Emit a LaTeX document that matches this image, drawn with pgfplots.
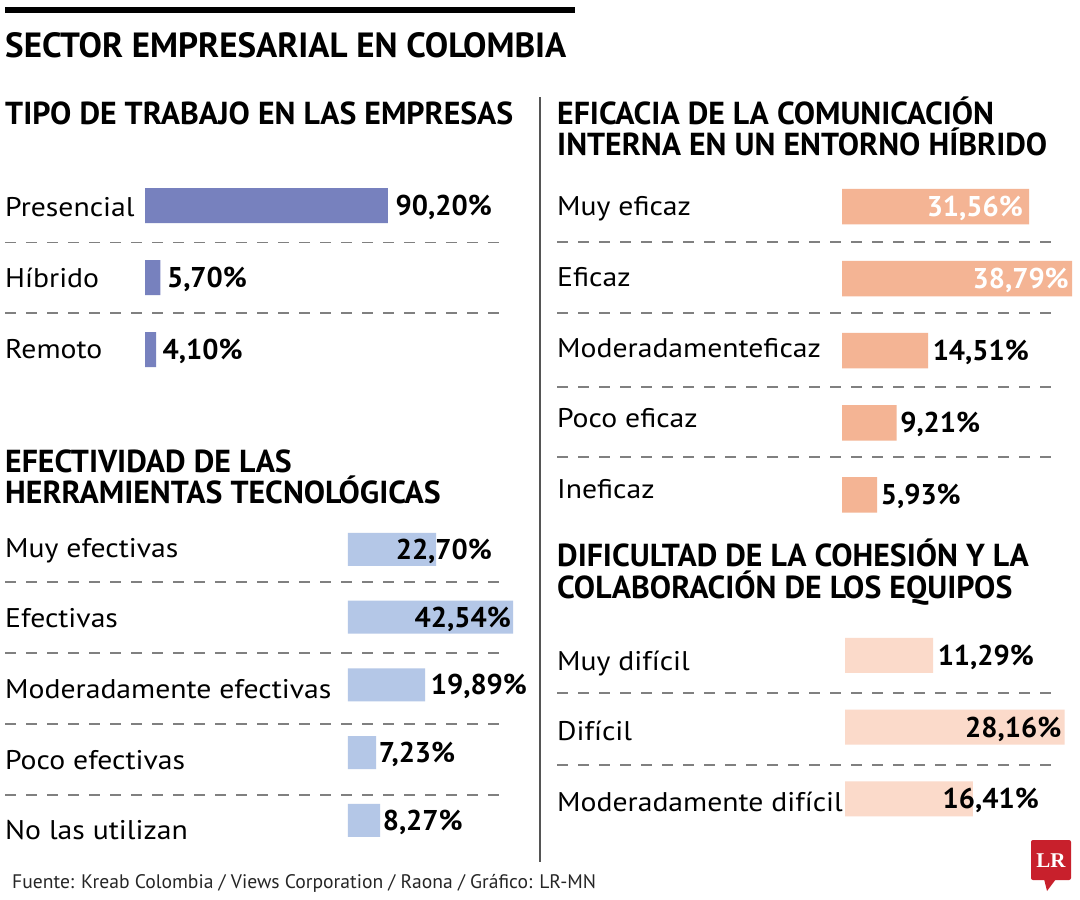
\documentclass[border=0pt]{standalone}
\usepackage{pgfplots}
\pgfplotsset{compat=1.18}
\usepackage{pgfplotstable}
\usepackage{fontspec}
\setmainfont{PT Sans}
\newfontfamily\labfam{PT Sans}[FakeStretch=1.1]
\newfontfamily\logofont{Liberation Serif}

\definecolor{cTipo}{RGB}{119,129,190}
\definecolor{cEfec}{RGB}{180,199,231}
\definecolor{cEfic}{RGB}{244,180,148}
\definecolor{cDif}{RGB}{251,218,202}
\definecolor{sepgray}{RGB}{128,128,128}
\definecolor{divgray}{RGB}{85,85,85}
\definecolor{lrred}{RGB}{200,32,44}

\newcommand\labfont{\labfam\fontsize{27}{30}\selectfont}
\newcommand\valfont{\fontsize{28.6}{30}\selectfont\bfseries}
\newcommand\secfont{\fontsize{31.8}{34}\selectfont\bfseries}
\newcommand\titfont{\fontsize{35}{38}\selectfont\bfseries}

% value labels: \vw = after the bar end (shift, colour, text), \ve = inside, right aligned
\protected\def\vw#1#2#3{\makebox[0pt][l]{\hspace*{#1pt}\textcolor{#2}{#3\%}}}
\protected\def\ve#1#2#3{\makebox[0pt][r]{\textcolor{#2}{#3\%}\hspace*{#1pt}}}

\pgfplotstableread{
y x lab
0 90.20 \vw{7}{black}{90,20}
1 5.70 \vw{6}{black}{5,70}
2 4.10 \vw{6}{black}{4,10}
}\tipo

\pgfplotstableread{
y x lab
0 22.70 \vw{-41}{black}{22,70}
1 42.54 \ve{3}{black}{42,54}
2 19.89 \vw{5}{black}{19,89}
3 7.23 \vw{2}{black}{7,23}
4 8.27 \vw{2}{black}{8,27}
}\efec

\pgfplotstableread{
y x lab
0 31.56 \ve{7}{white}{31,56}
1 38.79 \ve{4}{white}{38,79}
2 14.51 \vw{4}{black}{14,51}
3 9.21 \vw{3}{black}{9,21}
4 5.93 \vw{3}{black}{5,93}
}\efic

\pgfplotstableread{
y x lab
0 11.29 \vw{4}{black}{11,29}
1 28.16 \ve{4}{black}{28,16}
2 16.41 \vw{-31}{black}{16,41}
}\dif

\pgfplotsset{
  panel/.style={
    xbar, y dir=reverse, clip=false, scale only axis,
    xmin=0, axis lines=left, axis line style={draw=none},
    xtick=\empty, ytick style={draw=none}, major tick length=0pt,
    yticklabel style={anchor=west, inner sep=0pt, font=\labfont,
      text height=18.9pt, text depth=0pt},
  },
  vals/.style={
    draw=none,
    nodes near coords={\pgfplotspointmeta},
    point meta=explicit symbolic,
    every node near coord/.append style={anchor=west, inner sep=0pt,
      font=\valfont, text height=20pt, text depth=0pt},
  },
}

\begin{document}
\begin{tikzpicture}[x=1pt,y=1pt]
\path[use as bounding box, fill=white] (0,0) rectangle (1080,-900);

% header
\fill[black] (5,-7) rectangle (575,-13);
\node[anchor=base west, inner sep=0pt, font=\titfont] at (5,-57) {SECTOR EMPRESARIAL EN COLOMBIA};

% section titles
\node[anchor=base west, inner sep=0pt, font=\secfont] at (5,-124) {TIPO DE TRABAJO EN LAS EMPRESAS};
\node[anchor=base west, inner sep=0pt, font=\secfont] at (5,-472) {EFECTIVIDAD DE LAS};
\node[anchor=base west, inner sep=0pt, font=\secfont] at (5,-503) {HERRAMIENTAS TECNOLÓGICAS};
\node[anchor=base west, inner sep=0pt, font=\secfont] at (557,-124) {EFICACIA DE LA COMUNICACIÓN};
\node[anchor=base west, inner sep=0pt, font=\secfont] at (557,-155.5) {INTERNA EN UN ENTORNO HÍBRIDO};
\node[anchor=base west, inner sep=0pt, font=\secfont] at (557,-566) {DIFICULTAD DE LA COHESIÓN Y LA};
\node[anchor=base west, inner sep=0pt, font=\secfont] at (557,-598) {COLABORACIÓN DE LOS EQUIPOS};

% divider
\draw[divgray, line width=1.5pt] (540,-97) -- (540,-862);

% row separators
\begin{scope}[sepgray, line width=1.6pt, dash pattern=on 11pt off 10pt]
\foreach \yy in {242.5,313,582,653,724,795} \draw (5,-\yy) -- (508,-\yy);
\foreach \yy in {242,313,387,457,693,765} \draw (557,-\yy) -- (1060,-\yy);
\end{scope}

% TIPO DE TRABAJO
\begin{axis}[panel, at={(145pt,-169.5pt)}, anchor=north west,
  width=360pt, height=216pt, xmax=133.63, ymin=-0.5, ymax=2.5,
  ytick={0.028,1.007,2.0}, yticklabels={Presencial,Híbrido,Remoto},
  yticklabel style={xshift=-140pt}, bar width=35pt]
\addplot[vals, fill=cTipo] table[x=x, y=y, meta=lab] {\tipo};
\end{axis}

% EFECTIVIDAD
\begin{axis}[panel, at={(348pt,-515.6pt)}, anchor=north west,
  width=170pt, height=338.75pt, xmax=43.81, ymin=-0.5, ymax=4.5,
  ytick={-0.022,1.011,2.059,3.107,4.140},
  yticklabels={Muy efectivas,Efectivas,Moderadamente efectivas,Poco efectivas,No las utilizan},
  yticklabel style={xshift=-343pt}, bar width=33pt]
\addplot[vals, fill=cEfec] table[x=x, y=y, meta=lab] {\efec};
\end{axis}

% EFICACIA
\begin{axis}[panel, at={(842pt,-170.45pt)}, anchor=north west,
  width=232pt, height=360.5pt, xmax=39.12, ymin=-0.5, ymax=4.5,
  ytick={-0.007,0.978,1.963,2.933,3.918},
  yticklabels={Muy eficaz,Eficaz,Moderadamenteficaz,Poco eficaz,Ineficaz},
  yticklabel style={xshift=-285pt}, bar width=35.5pt]
\addplot[vals, fill=cEfic] table[x=x, y=y, meta=lab] {\efic};
\end{axis}

% DIFICULTAD
\begin{axis}[panel, at={(845pt,-619.6pt)}, anchor=north west,
  width=224pt, height=215.25pt, xmax=28.72, ymin=-0.5, ymax=2.5,
  ytick={0.077,1.052,2.049},
  yticklabels={Muy difícil,Difícil,Moderadamente difícil},
  yticklabel style={xshift=-288pt}, bar width=35pt]
\addplot[vals, fill=cDif] table[x=x, y=y, meta=lab] {\dif};
\end{axis}

% footer
\node[anchor=base west, inner sep=0pt, font=\fontsize{19.6}{22}\selectfont, text=black!85]
  at (12,-888) {Fuente: Kreab Colombia / Views Corporation / Raona / Gráfico: LR-MN};

% logo
\fill[lrred, rounded corners=2pt] (1031,-840) rectangle (1071,-880);
\fill[lrred] (1044,-879) -- (1056,-879) -- (1047,-891) -- cycle;
\node[text=white, font=\logofont\bfseries\fontsize{21}{21}\selectfont] at (1051,-861) {LR};
\end{tikzpicture}
\end{document}
